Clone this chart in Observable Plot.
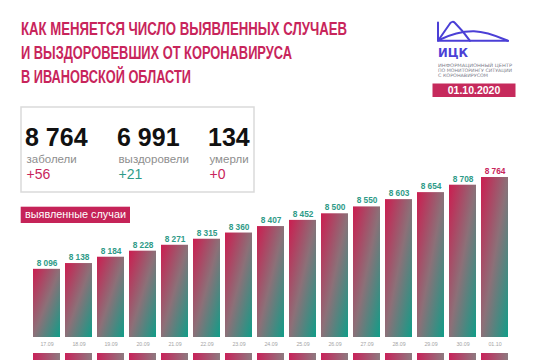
<!DOCTYPE html>
<html><head><meta charset="utf-8">
<script src="https://cdn.jsdelivr.net/npm/d3@7"></script>
<script src="https://cdn.jsdelivr.net/npm/@observablehq/plot@0.6"></script>
<style>
html,body{margin:0;padding:0;background:#fff;}
body{width:537px;height:360px;overflow:hidden;position:relative;font-family:"Liberation Sans",Arial,sans-serif;}
#chart,#row,#decor{position:absolute;left:0;}
#chart{top:0;}
#row{top:353px;}
#decor{top:0;pointer-events:none;}
</style></head><body>
<div id="chart"></div>
<div id="row"></div>
<svg id="decor" width="537" height="360"></svg>
<script>
// ---- data ----
const dates = ["17.09","18.09","19.09","20.09","21.09","22.09","23.09","24.09","25.09","26.09","27.09","28.09","29.09","30.09","01.10"];
const cases = [8096,8138,8184,8228,8271,8315,8360,8407,8452,8500,8550,8603,8654,8708,8764];
const statValues = [8764, 6991, 134];
const statLabels = ["заболели", "выздоровели", "умерли"];
const statDeltas = ["+56", "+21", "+0"];
const titleLines = ["КАК МЕНЯЕТСЯ ЧИСЛО ВЫЯВЛЕННЫХ СЛУЧАЕВ", "И ВЫЗДОРОВЕВШИХ ОТ КОРОНАВИРУСА", "В ИВАНОВСКОЙ ОБЛАСТИ"];
const legendLabel = "выявленные случаи";
const logoLines = ["ИНФОРМАЦИОННЫЙ ЦЕНТР", "ПО МОНИТОРИНГУ СИТУАЦИИ", "С КОРОНАВИРУСОМ"];
const reportDate = "01.10.2020";
const yBase = 7600;

// ---- styles ----
const crimson = "#c8255b";
const teal = "#2f9b88";
const logoBlue = "#4b3fd6";
const fmt = n => String(n).replace(/\B(?=(\d{3})+(?!\d))/g, " ");

const data = dates.map((d, i) => ({date: d, value: cases[i], last: i === dates.length - 1}));

const chart = Plot.plot({
  width: 537, height: 360,
  marginLeft: 22, marginRight: 17, marginTop: 0, marginBottom: 23,
  style: {background: "transparent", color: "#a5a5a5", fontFamily: "'Liberation Sans', Arial, sans-serif", fontSize: "5.3px"},
  x: {domain: dates, paddingInner: 0.15, paddingOuter: 0.15, tickSize: 0, tickPadding: 5, label: null},
  y: {domain: [yBase, 8764], range: [337, 177], axis: null},
  color: {type: "identity"},
  marks: [
    Plot.barY(data, {x: "date", y1: yBase, y2: "value", fill: "url(#barGrad)"}),
    Plot.text(data, {x: "date", y: "value", text: d => fmt(d.value), dy: -3.5, lineAnchor: "bottom",
      fill: d => d.last ? crimson : teal, fontSize: 8.3, fontWeight: "bold"})
  ]
});
document.getElementById("chart").appendChild(chart);

const defs = d3.select(chart).insert("defs", ":first-child");
const g1 = defs.append("linearGradient").attr("id", "barGrad").attr("x1", 0).attr("y1", 0).attr("x2", 1).attr("y2", 1);
g1.append("stop").attr("offset", "0").attr("stop-color", "#cc1d50");
g1.append("stop").attr("offset", "0.5").attr("stop-color", "#8c7078");
g1.append("stop").attr("offset", "1").attr("stop-color", "#109d88");
const g2 = defs.append("linearGradient").attr("id", "rowGrad").attr("x1", 0).attr("y1", 0).attr("x2", 1).attr("y2", 0);
g2.append("stop").attr("offset", "0").attr("stop-color", "#c9225a");
g2.append("stop").attr("offset", "1").attr("stop-color", "#8d7a80");

const row = Plot.plot({
  width: 537, height: 7,
  marginLeft: 22, marginRight: 17, marginTop: 0, marginBottom: 0,
  style: {background: "transparent"},
  x: {domain: dates, paddingInner: 0.15, paddingOuter: 0.15, axis: null},
  marks: [Plot.cell(dates, {x: d => d, fill: "url(#rowGrad)", inset: 0})]
});
document.getElementById("row").appendChild(row);

// ---- decorations ----
const decor = d3.select("#decor");
const titleLens = [326, 271, 170];
titleLines.forEach((t, i) => {
  decor.append("text").attr("x", 21).attr("y", 35 + i * 24)
    .attr("fill", crimson).attr("font-size", 18).attr("font-weight", "bold")
    .attr("font-family", "'Liberation Sans Narrow','Liberation Sans',Arial,sans-serif")
    .attr("textLength", titleLens[i]).attr("lengthAdjust", "spacingAndGlyphs").text(t);
});

// logo
const logo = decor.append("g").attr("fill", "none").attr("stroke", logoBlue).attr("stroke-width", 2).attr("stroke-linecap", "round").attr("stroke-linejoin", "round");
logo.append("path").attr("d", "M438,22.5 V40.8 H508");
logo.append("path").attr("d", "M438,40.8 L450,23.5 Q452.5,20.5 455,23 Q463,31 470,40.8");
logo.append("path").attr("d", "M439,40 C452,33.5 462,31 474,31.2 C487,31.5 499,37 508,40.8");
decor.append("text").attr("x", 438).attr("y", 56.5).attr("fill", logoBlue).attr("font-size", 11.5)
  .attr("font-weight", "bold").attr("font-family", "'DejaVu Sans',sans-serif")
  .attr("textLength", 30).attr("lengthAdjust", "spacingAndGlyphs").text("ИЦК");
const logoLens = [74, 74, 50];
logoLines.forEach((t, i) => {
  decor.append("text").attr("x", 438).attr("y", 67 + i * 5.1).attr("fill", "#7c7c8a")
    .attr("font-size", 4.6).attr("font-family", "'DejaVu Sans',sans-serif")
    .attr("textLength", logoLens[i]).attr("lengthAdjust", "spacingAndGlyphs").text(t);
});
decor.append("rect").attr("x", 432.5).attr("y", 83.5).attr("width", 83).attr("height", 13.5).attr("fill", "#c62a5c");
decor.append("text").attr("x", 474).attr("y", 94).attr("text-anchor", "middle").attr("fill", "#fff")
  .attr("font-size", 10.5).attr("font-weight", "bold").text(reportDate);

// stats box
decor.append("rect").attr("x", 21).attr("y", 107).attr("width", 233).attr("height", 85)
  .attr("fill", "none").attr("stroke", "#dadada").attr("stroke-width", 1.5);
const statX = [25, 117, 208];
const deltaColors = [crimson, teal, crimson];
statValues.forEach((v, i) => {
  decor.append("text").attr("x", statX[i]).attr("y", 146).attr("fill", "#111")
    .attr("font-size", 25).attr("font-weight", "bold").text(fmt(v));
  decor.append("text").attr("x", statX[i] + 1.5).attr("y", 163).attr("fill", "#8e8e8e")
    .attr("font-size", 11.5).text(statLabels[i]);
  decor.append("text").attr("x", statX[i] + 1.5).attr("y", 179.3).attr("fill", deltaColors[i])
    .attr("font-size", 14).text(statDeltas[i]);
});

// legend tag
decor.append("rect").attr("x", 20.7).attr("y", 206.7).attr("width", 109.3).attr("height", 16.3).attr("fill", "#c52358");
decor.append("text").attr("x", 25).attr("y", 218.3).attr("fill", "#fff").attr("font-size", 11.5)
  .attr("textLength", 101).attr("lengthAdjust", "spacingAndGlyphs").text(legendLabel);
</script>
</body></html>
